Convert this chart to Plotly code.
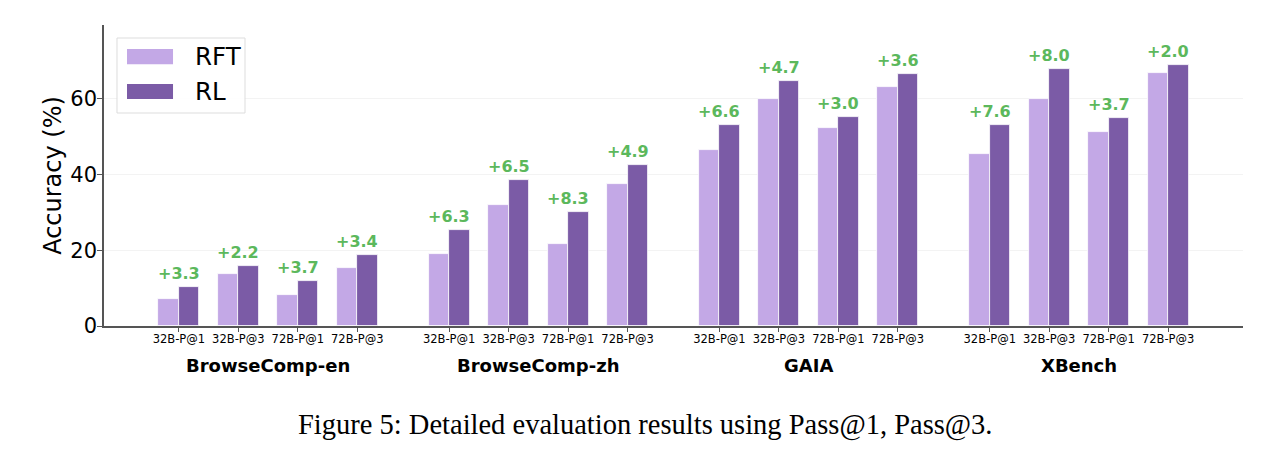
import plotly.graph_objects as go

benchmarks = ["BrowseComp-en", "BrowseComp-zh", "GAIA", "XBench"]
settings = ["32B-P@1", "32B-P@3", "72B-P@1", "72B-P@3"]
rft = [
    [7.1, 13.7, 8.2, 15.3],
    [19.0, 32.0, 21.7, 37.5],
    [46.5, 60.0, 52.3, 63.0],
    [45.5, 59.9, 51.2, 66.9],
]
rl = [
    [10.4, 15.9, 11.9, 18.7],
    [25.3, 38.5, 30.0, 42.4],
    [53.1, 64.7, 55.3, 66.6],
    [53.1, 67.9, 54.9, 68.9],
]
gains = [
    ["+3.3", "+2.2", "+3.7", "+3.4"],
    ["+6.3", "+6.5", "+8.3", "+4.9"],
    ["+6.6", "+4.7", "+3.0", "+3.6"],
    ["+7.6", "+8.0", "+3.7", "+2.0"],
]

RFT_COLOR = "#c3a8e6"
RL_COLOR = "#7b5ba6"
GREEN = "#5cb85c"

step = 0.22
bw = 0.076

pos, xr, yr, xl, yl, lab, tick_text = [], [], [], [], [], [], []
for g, b in enumerate(benchmarks):
    for j, s in enumerate(settings):
        p = g + (j - 1.5) * step
        pos.append(p)
        tick_text.append(s)
        xr.append(p - bw / 2)
        yr.append(rft[g][j])
        xl.append(p + bw / 2)
        yl.append(rl[g][j])
        lab.append((p, rl[g][j], gains[g][j]))

fig = go.Figure()
fig.add_trace(go.Bar(x=xr, y=yr, width=bw, name="RFT", marker=dict(color=RFT_COLOR, line=dict(color="white", width=0.8)), showlegend=False))
fig.add_trace(go.Bar(x=xl, y=yl, width=bw, name="RL", marker=dict(color=RL_COLOR, line=dict(color="white", width=0.8)), showlegend=False))

annotations = []
for p, v, t in lab:
    annotations.append(dict(x=p, y=v, xref="x", yref="y", text=t, showarrow=False, yanchor="bottom", yshift=2,
                            font=dict(family="DejaVu Sans", size=16, color=GREEN, weight="bold")))
for g, b in enumerate(benchmarks):
    annotations.append(dict(x=g, y=-0.13, xref="x", yref="paper", text="<b>" + b + "</b>", showarrow=False,
                            yanchor="middle", font=dict(family="DejaVu Sans", size=18, color="black")))

# legend (manual)
shapes = [
    dict(type="rect", xref="paper", yref="paper", x0=0.0114, x1=0.1238, y0=0.7076, y1=0.9568,
         line=dict(color="#dddddd", width=1), fillcolor="rgba(255,255,255,0.85)", layer="above"),
    dict(type="rect", xref="paper", yref="paper", x0=0.0202, x1=0.0606, y0=0.870, y1=0.920,
         line=dict(width=0), fillcolor=RFT_COLOR, layer="above"),
    dict(type="rect", xref="paper", yref="paper", x0=0.0202, x1=0.0606, y0=0.754, y1=0.804,
         line=dict(width=0), fillcolor=RL_COLOR, layer="above"),
]
for name, yy in [("RFT", 0.8953), ("RL", 0.779)]:
    annotations.append(dict(x=0.0781, y=yy, xref="paper", yref="paper", text=name, showarrow=False,
                            xanchor="left", yanchor="middle", font=dict(family="DejaVu Sans", size=24.5, color="black")))

annotations.append(dict(x=0.4754, y=-0.329, xref="paper", yref="paper",
                        text="Figure 5: Detailed evaluation results using Pass@1, Pass@3.", showarrow=False,
                        xanchor="center", yanchor="middle", font=dict(family="Liberation Serif", size=28.5, color="black")))

fig.update_layout(
    width=1274, height=450,
    margin=dict(l=96, r=39, t=17, b=132),
    paper_bgcolor="white", plot_bgcolor="white",
    bargap=0, barmode="overlay",
    annotations=annotations, shapes=shapes,
    font=dict(family="DejaVu Sans", color="black"),
)
fig.update_xaxes(range=[-0.607, 3.607], tickmode="array", tickvals=pos, ticktext=tick_text,
                 tickfont=dict(family="DejaVu Sans", size=11.5, color="black"), ticklabelstandoff=-3,
                 ticks="outside", ticklen=4, tickcolor="#555555", showline=True, linecolor="#555555", linewidth=1.5,
                 showgrid=False, zeroline=False)
fig.update_yaxes(range=[0, 79.5], tickvals=[0, 20, 40, 60], ticks="outside", ticklen=5, tickcolor="#555555",
                 tickfont=dict(family="DejaVu Sans", size=21, color="black"), ticklabelstandoff=-4,
                 title=dict(text="Accuracy (%)", font=dict(family="DejaVu Sans", size=24, color="black"), standoff=2),
                 showline=True, linecolor="#555555", linewidth=1.5, showgrid=True, gridcolor="#f3f3f3", gridwidth=1,
                 zeroline=False)

fig.write_html("out.html")
